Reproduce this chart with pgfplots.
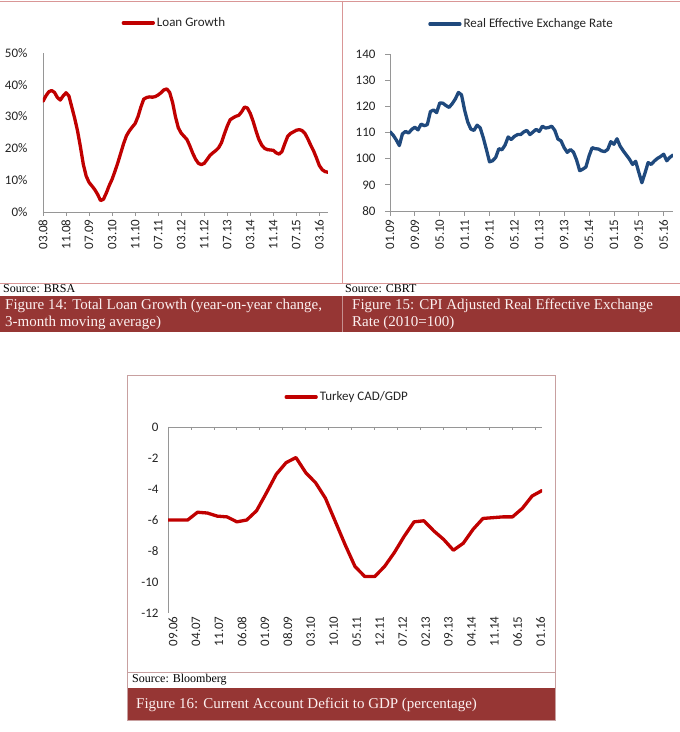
\documentclass[border=0pt]{standalone}
\usepackage{fontspec}
\setmainfont{Liberation Serif}
\newfontfamily\chartfamily{Carlito}
\usepackage{pgfplots}
\usepackage{pgfplotstable}
\pgfplotsset{compat=1.18}

\definecolor{capred}{RGB}{150,54,52}
\definecolor{captext}{RGB}{252,240,240}
\definecolor{framepink}{RGB}{217,150,150}
\definecolor{framegray}{RGB}{200,160,160}
\definecolor{loanred}{RGB}{192,0,0}
\definecolor{reerblue}{RGB}{31,73,125}
\definecolor{axisgray}{RGB}{150,150,150}
\definecolor{labelgray}{RGB}{35,35,35}

\newcommand\cf{\chartfamily\fontsize{13}{15}\selectfont}
\newcommand\capfont{\fontsize{15}{17}\selectfont}
\newcommand\srcfont{\fontsize{12}{14}\selectfont}

% Total loan growth, y/y %, 3-month moving average (month 0 = 03.08)
\pgfplotstableread{
m v
0 34.8
1 36.5
2 37.8
3 38.2
4 37.6
5 36.0
6 35.2
7 36.5
8 37.5
9 36.5
10 33.0
11 29.5
12 25.5
13 20.5
14 15.0
15 11.3
16 9.3
17 8.2
18 7.0
19 5.5
20 3.6
21 4.0
22 6.0
23 8.3
24 10.3
25 12.8
26 15.5
27 18.5
28 21.5
29 24.0
30 25.5
31 26.7
32 27.8
33 30.0
34 33.0
35 35.5
36 36.0
37 36.2
38 36.1
39 36.3
40 36.8
41 37.5
42 38.4
43 38.7
44 37.6
45 34.5
46 30.0
47 26.5
48 24.8
49 23.8
50 22.8
51 20.8
52 18.5
53 16.6
54 15.3
55 14.9
56 15.3
57 16.5
58 17.8
59 18.6
60 19.3
61 20.2
62 21.8
63 24.5
64 27.0
65 29.0
66 29.6
67 30.1
68 30.4
69 31.5
70 33.0
71 32.7
72 31.0
73 28.5
74 25.5
75 22.8
76 21.0
77 20.0
78 19.6
79 19.5
80 19.4
81 18.6
82 18.2
83 19.0
84 21.5
85 23.8
86 24.7
87 25.2
88 25.7
89 25.9
90 25.6
91 24.7
92 23.0
93 21.0
94 19.2
95 17.0
96 14.6
97 13.3
98 12.7
99 12.5
}\loantable

% CPI-based real effective exchange rate, 2010=100 (month 0 = 01.09)
\pgfplotstableread{
m v
0 110.3
1 109.0
2 107.2
3 105.0
4 109.5
5 110.4
6 109.8
7 111.2
8 112.0
9 111.0
10 113.2
11 112.6
12 113.0
13 118.0
14 118.6
15 117.6
16 121.3
17 121.2
18 120.3
19 119.6
20 121.0
21 122.8
22 125.3
23 124.4
24 118.5
25 114.0
26 111.3
27 110.8
28 112.8
29 111.8
30 108.0
31 103.5
32 98.8
33 99.2
34 100.5
35 103.8
36 103.4
37 105.2
38 108.3
39 107.3
40 108.5
41 109.2
42 109.2
43 110.2
44 110.8
45 109.2
46 110.2
47 111.2
48 110.4
49 112.4
50 111.7
51 111.9
52 112.4
53 110.8
54 107.5
55 106.8
56 104.2
57 102.4
58 103.5
59 102.5
60 99.5
61 95.4
62 96.0
63 96.8
64 101.0
65 104.2
66 103.8
67 103.7
68 103.0
69 102.7
70 103.5
71 106.5
72 105.5
73 107.6
74 104.8
75 103.0
76 101.4
77 99.8
78 97.8
79 99.0
80 94.8
81 90.8
82 94.5
83 98.5
84 97.8
85 99.1
86 100.1
87 100.8
88 101.7
89 99.2
90 100.5
91 101.4
}\reertable

% Current account balance to GDP, % (month 0 = 09.06)
\pgfplotstableread{
m v
0 -6.0
3 -6.0
6 -6.0
9 -5.5
12 -5.55
15 -5.75
18 -5.8
21 -6.12
24 -6.0
27 -5.4
30 -4.25
33 -3.05
36 -2.3
39 -1.97
42 -2.95
45 -3.6
48 -4.6
51 -6.1
54 -7.6
57 -9.0
60 -9.65
63 -9.65
66 -9.0
69 -8.1
72 -7.05
75 -6.12
78 -6.05
81 -6.7
84 -7.25
87 -7.95
90 -7.5
93 -6.6
96 -5.9
99 -5.85
102 -5.8
105 -5.8
108 -5.25
111 -4.45
114 -4.1
}\cadtable

\pgfplotsset{
  panel/.style={
    scale only axis, anchor=south west,
    axis x line=bottom, axis y line=left,
    axis line style={axisgray, line width=0.8pt, -},
    tick style={axisgray, line width=0.8pt},
    tick align=outside, major tick length=4pt,
    ticklabel style={font=\cf, text=labelgray},
    /pgf/number format/assume math mode=true,
    xticklabel style={rotate=90, anchor=east},
    legend style={draw=none, fill=none, font=\cf, text=labelgray,
      anchor=center, inner sep=0pt},
    legend image code/.code={\draw[##1] (0pt,0pt) -- (30pt,0pt);},
    every axis plot/.append style={line width=3.3pt, line join=round, line cap=round},
  }
}

\begin{document}
\begin{tikzpicture}
\useasboundingbox (0pt,0pt) rectangle (680pt,732pt);

% ---- frames of the two upper panels ----
\draw[framepink, line width=0.8pt] (0pt,731pt) -- (680pt,731pt);
\draw[framepink, line width=0.8pt] (342pt,731pt) -- (342pt,449pt);
\draw[framepink, line width=0.8pt] (0pt,449pt) -- (680pt,449pt);
\fill[capred] (0pt,400pt) rectangle (680pt,436pt);
\draw[capred!55!white, line width=0.6pt] (342pt,400pt) -- (342pt,436pt);

\node[anchor=west, inner sep=0pt, font=\srcfont] at (3pt,443pt) {Source: BRSA};
\node[anchor=west, inner sep=0pt, font=\srcfont] at (345pt,443pt) {Source: CBRT};
\node[anchor=west, inner sep=0pt, font=\capfont, text=captext] at (5pt,426pt)
  {Figure 14: Total Loan Growth (year-on-year change,};
\node[anchor=west, inner sep=0pt, font=\capfont, text=captext] at (5pt,409pt)
  {3-month moving average)};
\node[anchor=west, inner sep=0pt, font=\capfont, text=captext] at (352pt,426pt)
  {Figure 15: CPI Adjusted Real Effective Exchange};
\node[anchor=west, inner sep=0pt, font=\capfont, text=captext] at (352pt,409pt)
  {Rate (2010=100)};

% ---- frame of the lower panel ----
\draw[framegray, line width=0.8pt] (127pt,12pt) rectangle (555pt,357pt);
\draw[framegray, line width=0.8pt] (127pt,60pt) -- (555pt,60pt);
\fill[capred] (128pt,12pt) rectangle (555pt,44pt);
\node[anchor=west, inner sep=0pt, font=\srcfont] at (132pt,52pt) {Source: Bloomberg};
\node[anchor=west, inner sep=0pt, font=\capfont, text=captext] at (136pt,27pt)
  {Figure 16: Current Account Deficit to GDP (percentage)};

% ---- Figure 14: loan growth ----
\begin{axis}[panel,
  at={(43pt,520pt)}, width=285pt, height=159pt,
  xmin=0, xmax=99, ymin=0, ymax=50,
  ytick={0,10,...,50}, ytick style={draw=none},
  yticklabel={\pgfmathprintnumber{\tick}\%},
  yticklabel style={xshift=-8pt},
  xtick={0,8,...,96},
  xticklabels={03.08,11.08,07.09,03.10,11.10,07.11,03.12,11.12,07.13,03.14,11.14,07.15,03.16},
  legend style={at={(0.461,1.189)}},
]
\addplot[loanred] table[x=m, y=v] {\loantable};
\addlegendentry{Loan Growth}
\end{axis}

% ---- Figure 15: real effective exchange rate ----
\begin{axis}[panel,
  at={(390pt,521pt)}, width=283pt, height=157pt,
  xmin=0, xmax=91, ymin=80, ymax=140,
  ytick={80,90,...,140}, major tick length=5pt,
  yticklabel style={xshift=-6pt},
  xtick={0,8,...,88},
  xticklabels={01.09,09.09,05.10,01.11,09.11,05.12,01.13,09.13,05.14,01.15,09.15,05.16},
  legend style={at={(0.465,1.191)}},
]
\addplot[reerblue] table[x=m, y=v] {\reertable};
\addlegendentry{Real Effective Exchange Rate}
\end{axis}

% ---- Figure 16: current account deficit to GDP ----
% x axis sits at zero (the top edge); category labels stay at the bottom
\begin{axis}[panel,
  at={(168pt,119pt)}, width=374pt, height=186pt,
  axis lines=box, axis line style={draw=none},
  xtick pos=right, xticklabel pos=left,
  ytick pos=left, yticklabel pos=left,
  xmin=0, xmax=114, ymin=-12, ymax=0,
  ytick={-12,-10,...,0}, ytick style={draw=none},
  yticklabel style={xshift=-6pt},
  xtick={0,7,...,112}, tick align=inside, major tick length=3.5pt,
  xticklabels={09.06,04.07,11.07,06.08,01.09,08.09,03.10,10.10,05.11,12.11,07.12,02.13,09.13,04.14,11.14,06.15,01.16},
  xticklabel style={yshift=-5pt},
  legend style={at={(0.479,1.161)}},
]
\draw[axisgray, line width=0.8pt] (rel axis cs:0,0) -- (rel axis cs:0,1) -- (rel axis cs:1,1);
\addplot[loanred] table[x=m, y=v] {\cadtable};
\addlegendentry{Turkey CAD/GDP}
\end{axis}
\end{tikzpicture}
\end{document}
